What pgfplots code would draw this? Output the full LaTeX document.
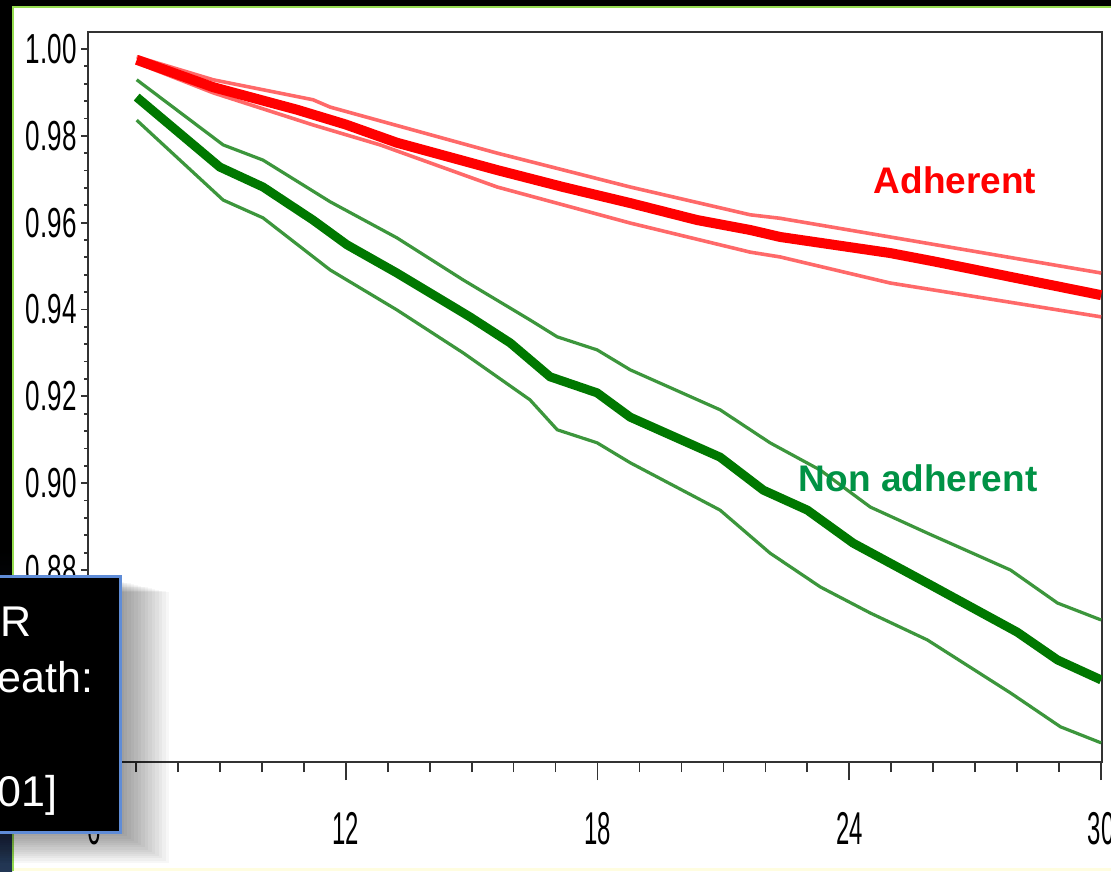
\documentclass[border=0pt]{standalone}
\usepackage{fontspec}
\setmainfont{Liberation Sans}
\usepackage{graphicx}
\usepackage{pgfplots}
\pgfplotsset{compat=1.18}
\definecolor{redmain}{RGB}{255,0,0}
\definecolor{redband}{RGB}{255,105,105}
\definecolor{greenmain}{RGB}{0,120,0}
\definecolor{greenband}{RGB}{60,150,60}
\definecolor{greentext}{RGB}{0,146,69}
\definecolor{boxblue}{RGB}{95,140,215}
\definecolor{slidegreen}{RGB}{150,220,80}
\newcommand\sy[1]{\scalebox{0.62}[1]{#1}}
\newcommand\sxl[1]{\scalebox{0.52}[1]{#1}}
\begin{document}
\begin{tikzpicture}
\useasboundingbox (0pt,0pt) rectangle (555.5pt,435.5pt);
\begin{scope}[x=0.5pt,y=0.5pt]
\fill[black] (0,0) rectangle (1111,871);
\shade[top color=black,bottom color={rgb,255:red,35;green,55;blue,85}] (0,0) rectangle (12,320);
\fill[white] (12,0) rectangle (1111,863);
\fill[yellow!12] (12,0) rectangle (1111,3);
\draw[slidegreen,line width=1pt] (12.5,0) -- (12.5,863.5) -- (1111,863.5);
\end{scope}
% x ticks (long)
\begin{axis}[at={(44pt,54.5pt)}, anchor=south west, scale only axis,
  width=507pt, height=365pt,
  xmin=5.86, xmax=30.02, ymin=0.8358, ymax=1.0039,
  axis line style={draw=black!80, line width=1pt},
  ytick=\empty, xtick={6,12,18,24,30}, minor x tick num=5,
  xtick pos=left, tick align=outside,
  major tick length=9pt, minor tick length=5pt,
  tick style={draw=black!80, line width=0.9pt},
  xticklabels={\sxl{6},\sxl{12},\sxl{18},\sxl{24},\sxl{30}},
  xticklabel style={font=\fontsize{23}{25}\selectfont, inner sep=0pt, yshift=-16pt}]
\end{axis}
% y ticks and data
\begin{axis}[at={(44pt,54.5pt)}, anchor=south west, scale only axis,
  width=507pt, height=365pt,
  xmin=5.86, xmax=30.02, ymin=0.8358, ymax=1.0039,
  axis line style={draw=black!80, line width=1pt},
  xtick=\empty, ytick={0.88,0.90,0.92,0.94,0.96,0.98,1.00}, minor y tick num=4,
  ytick pos=left, tick align=outside,
  major tick length=3.5pt, minor tick length=2pt,
  tick style={draw=black!80, line width=0.9pt},
  yticklabels={\sy{0.88},\sy{0.90},\sy{0.92},\sy{0.94},\sy{0.96},\sy{0.98},\sy{1.00}},
  yticklabel style={font=\fontsize{21}{23}\selectfont, inner sep=0pt, xshift=-2pt}]
% red bands
\addplot[redband, line width=1.8pt] coordinates {(7.02,0.9982) (8.84,0.9929) (11.22,0.9883) (11.63,0.9866) (15.61,0.9760) (18.78,0.9682) (21.64,0.9618) (22.35,0.9610) (24.97,0.9567) (30,0.9484)};
\addplot[redband, line width=1.8pt] coordinates {(7.02,0.9968) (8.84,0.9899) (11.22,0.9825) (12.82,0.9779) (15.61,0.9682) (18.78,0.9599) (21.64,0.9532) (22.35,0.9521) (24.97,0.9461) (30,0.9383)};
\addplot[redmain, line width=5pt] coordinates {(7.02,0.9975) (8.84,0.9912) (10.84,0.9860) (12.0,0.9826) (13.22,0.9784) (15.61,0.9721) (17.18,0.9682) (18.78,0.9645) (20.37,0.9606) (21.64,0.9583) (22.35,0.9567) (24.97,0.9530) (26,0.9511) (28,0.9472) (30,0.9433)};
% green bands
\addplot[greenband, line width=1.6pt] coordinates {(7.02,0.9929) (9.08,0.9779) (10.03,0.9744) (11.63,0.9648) (13.22,0.9565) (14.8,0.9468) (16.39,0.9376) (17.04,0.9337) (17.99,0.9307) (18.78,0.9261) (20.92,0.9169) (22.11,0.9093) (23.31,0.9030) (24.5,0.8945) (25.86,0.8885) (27.84,0.8800) (28.96,0.8724) (30,0.8685)};
\addplot[greenband, line width=1.6pt] coordinates {(7.02,0.9836) (9.08,0.9652) (10.03,0.9611) (11.63,0.9491) (13.22,0.9399) (14.8,0.9300) (16.39,0.9192) (17.04,0.9123) (17.99,0.9093) (18.78,0.9047) (20.92,0.8938) (22.11,0.8839) (23.31,0.8761) (24.5,0.8701) (25.86,0.8639) (27.84,0.8517) (29.03,0.8439) (30,0.8402)};
\addplot[greenmain, line width=4.5pt] coordinates {(7.02,0.9889) (9.0,0.9728) (10.03,0.9682) (11.22,0.9606) (12.03,0.9549) (13.22,0.9484) (14.96,0.9383) (15.92,0.9323) (16.87,0.9245) (17.99,0.9208) (18.78,0.9152) (20.92,0.9060) (21.95,0.8984) (23.0,0.8938) (24.09,0.8862) (25.93,0.8766) (28.0,0.8657) (28.96,0.8593) (30,0.8547)};
\node[text=redmain, font=\bfseries\fontsize{18.5}{20}\selectfont] at (axis cs:26.52,0.9698) {Adherent};
\node[text=greentext, font=\bfseries\fontsize{18.5}{20}\selectfont] at (axis cs:25.64,0.9012) {Non adherent};
\end{axis}
\begin{scope}[x=0.5pt,y=0.5pt]
\foreach \k in {1,...,14} {
  \fill[black,opacity=0.03] (-10,{39-2.2*\k}) rectangle ({120+3.5*\k},{290-0.8*\k});
}
\fill[black] (-10,39) rectangle (120,294);
\draw[boxblue,line width=1.5pt] (-10,39) rectangle (120,294);
\node[anchor=base west, text=white, inner sep=0pt, font=\fontsize{21.5}{23}\selectfont] at (0,234) {R};
\node[anchor=base west, text=white, inner sep=0pt, font=\fontsize{21.5}{23}\selectfont] at (-3,178) {eath:};
\node[anchor=base west, text=white, inner sep=0pt, font=\fontsize{21.5}{23}\selectfont] at (-3,64) {01]};
\end{scope}
\end{tikzpicture}
\end{document}
